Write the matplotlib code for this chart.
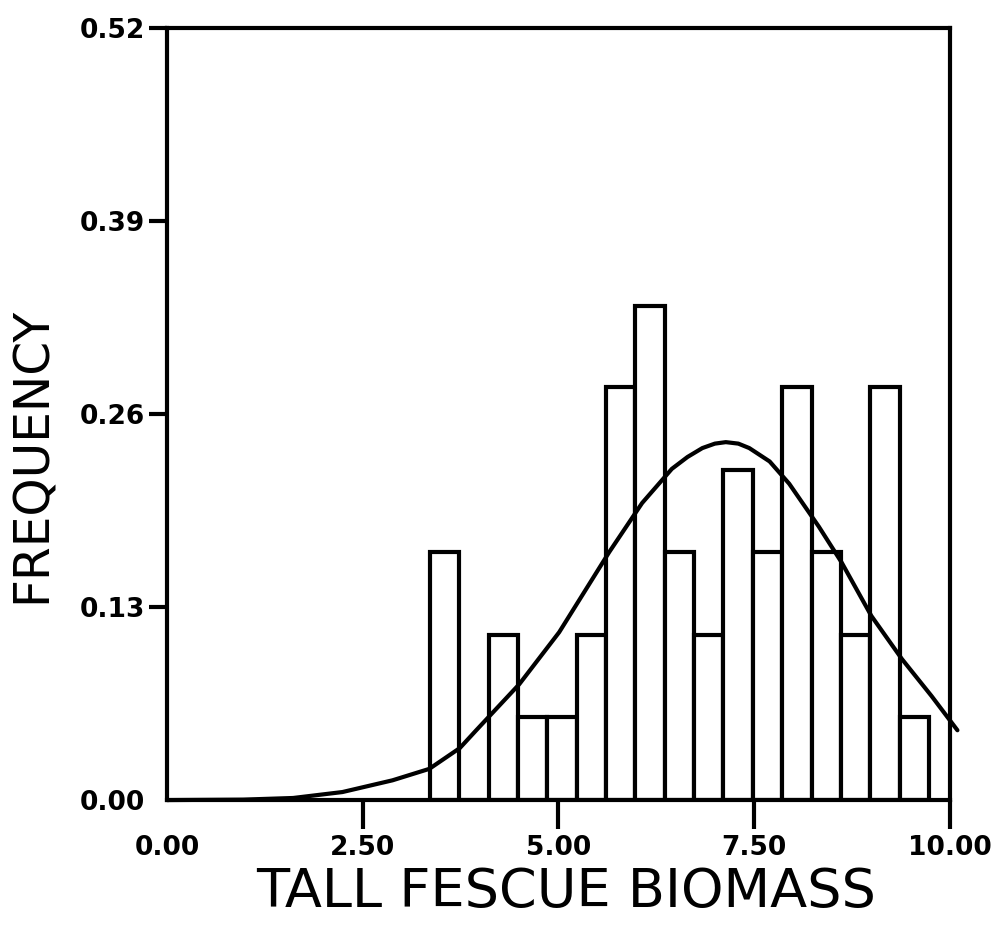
import matplotlib
matplotlib.use("Agg")
import matplotlib.pyplot as plt
import numpy as np

# ---- data ----
bin_start = 3.36
bin_width = 0.375
frequencies = [0.167, 0.0, 0.111, 0.056, 0.056, 0.111, 0.278, 0.333, 0.167,
               0.111, 0.222, 0.167, 0.278, 0.167, 0.111, 0.278, 0.056]

curve_x = [0.0, 0.97, 1.61, 2.24, 2.88, 3.35, 3.74, 3.95, 4.50, 5.01, 5.65,
           6.07, 6.45, 6.65, 6.84, 7.00, 7.14, 7.30, 7.44, 7.70, 7.95, 8.33,
           8.62, 9.00, 9.39, 9.77, 10.1]
curve_y = [0.0, 0.0003, 0.0014, 0.0054, 0.0133, 0.021, 0.035, 0.047, 0.078,
           0.113, 0.167, 0.200, 0.223, 0.231, 0.237, 0.240, 0.241, 0.240,
           0.237, 0.228, 0.213, 0.184, 0.160, 0.124, 0.095, 0.070, 0.047]

x_ticks = [0.0, 2.5, 5.0, 7.5, 10.0]
x_tick_labels = ["0.00", "2.50", "5.00", "7.50", "10.00"]
y_ticks = [0.0, 0.13, 0.26, 0.39, 0.52]
y_tick_labels = ["0.00", "0.13", "0.26", "0.39", "0.52"]

x_label = "TALL FESCUE BIOMASS"
y_label = "FREQUENCY"

# ---- figure ----
fig = plt.figure(figsize=(10.07, 9.26), dpi=100)
ax = fig.add_axes([0.166, 0.136, 0.777, 0.834])

LW = 3.0
lefts = bin_start + bin_width * np.arange(len(frequencies))
ax.bar(lefts, frequencies, width=bin_width, align="edge",
       facecolor="white", edgecolor="black", linewidth=LW, zorder=2)
ax.plot(curve_x, curve_y, color="black", linewidth=LW, zorder=3,
        solid_capstyle="round", solid_joinstyle="round", clip_on=False)

ax.set_xlim(0, 10)
ax.set_ylim(0, 0.52)

for s in ax.spines.values():
    s.set_linewidth(LW)
    s.set_color("black")

ax.set_xticks(x_ticks)
ax.set_xticklabels(x_tick_labels, fontsize=19, fontweight="bold",
                   family="DejaVu Sans")
ax.set_yticks(y_ticks)
ax.set_yticklabels(y_tick_labels, fontsize=19, fontweight="bold",
                   family="DejaVu Sans")
ax.tick_params(axis="x", direction="out", length=21, width=LW, pad=4)
ax.tick_params(axis="y", direction="out", length=13, width=LW, pad=3)
ax.xaxis.get_major_ticks()[0].tick1line.set_visible(False)
ax.yaxis.get_major_ticks()[0].tick1line.set_visible(False)

ax.set_xlabel(x_label, fontsize=39, family="DejaVu Sans")
ax.xaxis.set_label_coords(0.51, -0.085)
ax.set_ylabel(y_label, fontsize=35, family="DejaVu Sans")
ax.yaxis.set_label_coords(-0.143, 0.447)

fig.savefig("out.png", dpi=100, facecolor="white")
